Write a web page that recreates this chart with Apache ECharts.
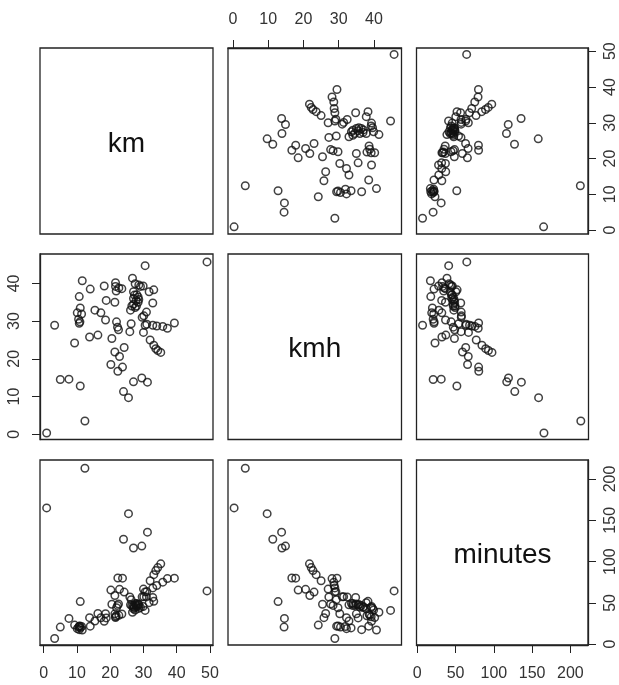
<!DOCTYPE html>
<html><head><meta charset="utf-8">
<script src="https://cdn.jsdelivr.net/npm/echarts@6/dist/echarts.min.js"></script>
<style>html,body{margin:0;padding:0;background:#fff}#c{width:619px;height:685px}</style>
</head><body><div id="c"></div>
<script>
const varNames = ['km', 'kmh', 'minutes'];
const km = [49.1, 0.9, 12.4, 11.0, 7.6, 5.0, 25.5, 24.0, 31.2, 29.5, 27.0, 23.7, 22.3, 20.2, 22.8, 21.4, 24.2, 35.2, 34.3, 33.7, 33.1, 32.0, 20.5, 16.3, 13.8, 9.3, 30.0, 25.9, 22.5, 22.2, 37.2, 39.3, 35.8, 34.0, 30.5, 26.3, 21.9, 18.6, 10.7, 10.9, 3.3, 29.6, 30.1, 30.9, 17.2, 15.4, 11.4, 10.1, 26.1, 27.5, 27.9, 32.8, 21.4, 18.8, 28.4, 28.6, 28.4, 27.3, 10.7, 31.7, 33.1, 27.0, 14.0, 23.5, 29.1, 28.6, 27.5, 26.7, 21.6, 21.8, 21.6, 18.2, 11.6, 30.5, 31.0, 29.9, 27.0, 27.8, 27.0, 26.5, 28.0, 22.6, 10.5, 11.0, 32.8];
const kmh = [45.7, 0.33, 3.5, 12.8, 14.6, 14.5, 9.7, 11.3, 13.8, 14.9, 13.9, 17.8, 16.7, 18.5, 20.6, 21.8, 23.0, 21.7, 22.2, 22.7, 23.6, 25.0, 25.4, 26.3, 25.8, 24.2, 27.0, 27.2, 27.7, 28.4, 28.1, 29.5, 28.6, 28.7, 28.9, 29.3, 29.8, 30.3, 29.4, 29.8, 28.9, 31.0, 31.4, 32.4, 32.2, 32.9, 31.9, 32.2, 32.9, 33.6, 34.0, 34.8, 35.0, 35.5, 35.0, 35.7, 36.4, 36.9, 36.5, 37.8, 38.3, 37.8, 38.5, 38.6, 39.2, 39.6, 39.9, 41.4, 39.2, 38.0, 40.2, 39.3, 40.7, 44.7, 29.2, 39.3, 34.5, 35.5, 36.0, 34.0, 37.0, 38.8, 30.5, 33.5, 28.9];
const minutes = [64.5, 165, 213, 51.6, 31.2, 20.7, 158, 127, 135.6, 118.8, 116.5, 79.9, 80.1, 65.5, 66.4, 58.9, 63.1, 97.3, 92.7, 89.1, 84.2, 76.8, 48.4, 37.2, 32.1, 23.1, 66.7, 57.1, 48.7, 46.9, 79.4, 79.9, 75.1, 71.1, 63.3, 53.9, 44.1, 36.8, 21.8, 21.9, 6.9, 57.3, 57.5, 57.2, 32.0, 28.1, 21.4, 18.8, 47.6, 49.1, 49.2, 56.6, 36.7, 31.8, 48.7, 48.1, 46.8, 44.4, 17.6, 50.3, 51.9, 42.9, 21.8, 36.5, 44.5, 43.3, 41.4, 38.7, 33.1, 34.4, 32.2, 27.8, 17.1, 40.9, 63.7, 45.6, 47.0, 47.0, 45.0, 46.8, 45.4, 34.9, 20.7, 19.7, 68.1];
const kmTicks = [0, 10, 20, 30, 40, 50];
const kmhTicks = [0, 10, 20, 30, 40];
const minutesTicks = [0, 50, 100, 150, 200];

const vars = [km, kmh, minutes];
const ticks = [kmTicks, kmhTicks, minutesTicks];
const ranges = [[-1.1, 50.9], [-1.4, 47.8], [-1.0, 223]];

const colLeft = [40, 228, 416.5];
const colWidth = [173, 173.5, 172];
const rowTop = [48, 254, 460];
const rowHeight = [186, 185.5, 185];

const FONT = '"Liberation Sans", Arial, sans-serif';
const INK = '#222';

const grids = [], xAxes = [], yAxes = [], series = [], graphics = [];

const xShow = { '2,0': 'bottom', '0,1': 'top', '2,2': 'bottom' };
const yShow = { '0,2': 'right', '1,0': 'left', '2,2': 'right' };

for (let r = 0; r < 3; r++) {
  for (let c = 0; c < 3; c++) {
    const g = r * 3 + c;
    grids.push({
      left: colLeft[c], top: rowTop[r], width: colWidth[c], height: rowHeight[r],
      show: true, borderColor: INK, borderWidth: 1.3, backgroundColor: 'transparent'
    });
    const xp = xShow[r + ',' + c];
    xAxes.push({
      gridIndex: g, type: 'value', min: ranges[c][0], max: ranges[c][1],
      show: !!xp, position: xp || 'bottom',
      splitLine: { show: false },
      axisLine: { show: true, onZero: false, lineStyle: { color: INK, width: 1.3 } },
      axisTick: { show: true, length: 8, inside: false, customValues: ticks[c], lineStyle: { color: INK, width: 1 } },
      axisLabel: { show: true, customValues: ticks[c], margin: xp === 'top' ? 20 : 21, fontSize: 16, color: '#333', fontFamily: FONT }
    });
    const yp = yShow[r + ',' + c];
    yAxes.push({
      gridIndex: g, type: 'value', min: ranges[r][0], max: ranges[r][1],
      show: !!yp, position: yp || 'left',
      splitLine: { show: false },
      axisLine: { show: true, onZero: false, lineStyle: { color: INK, width: 1.3 } },
      axisTick: { show: true, length: 8, inside: false, customValues: ticks[r], lineStyle: { color: INK, width: 1 } },
      axisLabel: { show: true, customValues: ticks[r], rotate: 90, margin: yp === 'left' ? 17 : 15, fontSize: 16, color: '#333', fontFamily: FONT }
    });
    if (r === c) {
      graphics.push({
        type: 'text',
        x: colLeft[c] + colWidth[c] / 2,
        y: rowTop[r] + rowHeight[r] / 2 + 3,
        style: {
          text: varNames[r], fill: '#111',
          font: '28px ' + FONT,
          align: 'center', verticalAlign: 'middle',
          textAlign: 'center', textVerticalAlign: 'middle'
        }
      });
    } else {
      series.push({
        type: 'scatter', xAxisIndex: g, yAxisIndex: g,
        symbol: 'circle', symbolSize: 7.5,
        itemStyle: { color: 'rgba(0,0,0,0)', borderColor: '#111', borderWidth: 1.5 },
        emphasis: { disabled: true },
        data: vars[c].map((v, i) => [v, vars[r][i]])
      });
    }
  }
}

const chart = echarts.init(document.getElementById('c'), null, { renderer: 'canvas' });
chart.setOption({
  animation: false,
  backgroundColor: '#fff',
  grid: grids, xAxis: xAxes, yAxis: yAxes, series: series,
  graphic: graphics
});
</script></body></html>
